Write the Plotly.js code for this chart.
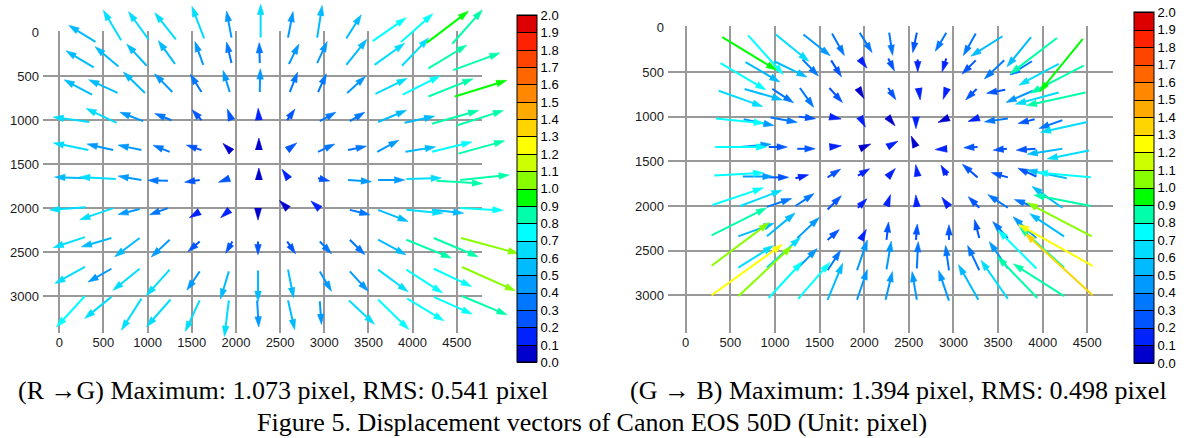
<!DOCTYPE html>
<html><head><meta charset="utf-8">
<script src="https://cdn.plot.ly/plotly-3.0.1.min.js"></script>
<style>html,body{margin:0;padding:0;background:#fff}#chart{width:1189px;height:438px}
.gridlayer path{shape-rendering:crispEdges}</style>
</head><body><div id="chart"></div>
<script>
// ---------------- data ----------------
// sample points (image coordinates, camera pixels), shared by both panels: rows x columns
const GX = [
 [410, 700, 1010, 1320, 1640, 1950, 2280, 2590, 2920, 3250, 3550, 3870, 4160, 4450],
 [390, 670,  990, 1310, 1630, 1950, 2270, 2600, 2920, 3250, 3570, 3880, 4180, 4460],
 [370, 660,  970, 1280, 1610, 1930, 2270, 2610, 2930, 3260, 3580, 3890, 4180, 4480],
 [340, 650,  950, 1270, 1610, 1950, 2260, 2580, 2950, 3290, 3610, 3910, 4220, 4500],
 [330, 610,  930, 1250, 1610, 1950, 2260, 2580, 2930, 3270, 3600, 3920, 4220, 4520],
 [320, 640,  930, 1230, 1590, 1930, 2260, 2600, 2930, 3270, 3610, 3930, 4270, 4540],
 [300, 610,  910, 1230, 1590, 1930, 2250, 2590, 2950, 3290, 3610, 3930, 4220, 4540],
 [290, 590,  910, 1250, 1590, 1960, 2250, 2580, 2950, 3290, 3610, 3930, 4240, 4550],
 [290, 590,  910, 1250, 1590, 1920, 2250, 2590, 2950, 3290, 3610, 3930, 4240, 4560],
 [290, 590,  930, 1260, 1590, 1920, 2240, 2590, 2950, 3280, 3610, 3940, 4240, 4560]
];
const GY = [
 [ 110,   90,   80,   80,   70,   60,   60,   60,   60,   70,  100,  110,  120,  130],
 [ 400,  390,  380,  360,  370,  350,  350,  360,  350,  370,  370,  380,  410,  430],
 [ 710,  690,  690,  680,  680,  680,  680,  680,  680,  690,  700,  710,  730,  730],
 [1020, 1030, 1010, 1000, 1000, 1000, 1000, 1000, 1010, 1010, 1020, 1030, 1040, 1060],
 [1340, 1340, 1340, 1360, 1340, 1360, 1340, 1340, 1360, 1340, 1360, 1360, 1360, 1380],
 [1660, 1670, 1680, 1690, 1680, 1660, 1680, 1670, 1660, 1680, 1680, 1670, 1690, 1680],
 [1990, 2000, 2010, 2000, 2040, 2020, 2000, 2010, 2010, 2020, 2020, 2020, 2020, 2000],
 [2330, 2340, 2340, 2360, 2380, 2380, 2380, 2380, 2380, 2360, 2360, 2360, 2340, 2340],
 [2670, 2690, 2690, 2700, 2720, 2720, 2710, 2700, 2720, 2720, 2700, 2700, 2690, 2670],
 [3000, 3010, 3030, 3040, 3050, 3050, 3050, 3050, 3060, 3050, 3040, 3030, 3010, 3000]
];
// R -> G displacement (pixel): x and y components
const RG_U = [
 [-0.48,-0.32,-0.36,-0.38,-0.22,-0.09, 0.00, 0.09, 0.09, 0.27, 0.60, 0.57, 0.75, 0.54],
 [-0.50,-0.42,-0.36,-0.30,-0.15,-0.09,-0.01, 0.18, 0.18, 0.37, 0.54, 0.48, 0.69, 0.84],
 [-0.50,-0.52,-0.39,-0.32,-0.20,-0.12, 0.01, 0.14, 0.15, 0.33, 0.57, 0.67, 0.80, 0.93],
 [-0.65,-0.55,-0.42,-0.30,-0.17,-0.07,-0.01, 0.14, 0.29, 0.27, 0.51, 0.54, 0.84, 0.84],
 [-0.63,-0.47,-0.42,-0.30,-0.27,-0.05, 0.00, 0.16, 0.30, 0.33, 0.39, 0.54, 0.72, 0.83],
 [-0.59,-0.65,-0.42,-0.36,-0.27,-0.19, 0.00,-0.07, 0.21, 0.42, 0.48, 0.63, 0.83, 0.88],
 [-0.65,-0.60,-0.39,-0.33,-0.17,-0.15, 0.00,-0.05,-0.11, 0.36, 0.54, 0.66, 0.57, 0.77],
 [-0.57,-0.54,-0.45,-0.33,-0.21,-0.12, 0.00, 0.15, 0.21, 0.27, 0.50, 0.81, 0.80, 1.03],
 [-0.54,-0.42,-0.48,-0.42,-0.23,-0.15, 0.00, 0.10, 0.21, 0.33, 0.54, 0.65, 0.68, 0.96],
 [-0.51,-0.48,-0.36,-0.43,-0.26,-0.08, 0.03, 0.12, 0.03, 0.46, 0.55, 0.66, 0.69, 0.81]
];
const RG_V = [
 [-0.30,-0.54,-0.50,-0.48,-0.58,-0.48,-0.60,-0.47,-0.58,-0.43,-0.42,-0.51,-0.57,-0.61],
 [-0.30,-0.36,-0.39,-0.42,-0.42,-0.38,-0.37,-0.36,-0.39,-0.46,-0.39,-0.50,-0.42,-0.31],
 [-0.27,-0.24,-0.38,-0.33,-0.32,-0.39,-0.42,-0.36,-0.33,-0.30,-0.28,-0.34,-0.32,-0.29],
 [-0.09,-0.26,-0.16,-0.12,-0.19,-0.19,-0.17,-0.20,-0.16,-0.16,-0.21,-0.12,-0.24,-0.27],
 [-0.13,-0.11,-0.09,-0.12,-0.09,-0.05,-0.05,-0.12,-0.14,-0.07,-0.21,-0.09,-0.18,-0.23],
 [-0.02,-0.04,-0.07,-0.01, 0.04, 0.07,-0.05,-0.10, 0.05, 0.03, 0.00,-0.02, 0.05,-0.09],
 [ 0.05, 0.21, 0.10, 0.12, 0.10, 0.13, 0.07,-0.05,-0.10, 0.09, 0.21, 0.06, 0.06, 0.04],
 [ 0.19, 0.16, 0.34, 0.31, 0.18, 0.21, 0.24, 0.22, 0.22, 0.27, 0.27, 0.33, 0.34, 0.28],
 [ 0.30, 0.24, 0.39, 0.47, 0.34, 0.50, 0.56, 0.51, 0.36, 0.36, 0.40, 0.42, 0.32, 0.43],
 [ 0.56, 0.39, 0.57, 0.49, 0.56, 0.65, 0.48, 0.53, 0.42, 0.43, 0.54, 0.40, 0.31, 0.34]
];
// G -> B displacement (pixel)
const GB_U = [
 [ 0.79, 0.51, 0.48, 0.39, 0.18, 0.18, 0.05,-0.06,-0.16,-0.18,-0.46,-0.35,-0.68,-0.63],
 [ 0.66, 0.50, 0.48, 0.23, 0.15, 0.09, 0.09, 0.00,-0.06,-0.20,-0.29,-0.32,-0.58,-0.78],
 [ 0.64, 0.55, 0.31, 0.20, 0.19, 0.04, 0.11, 0.02,-0.05,-0.16,-0.27,-0.39,-0.63,-0.86],
 [ 0.70, 0.44, 0.39, 0.24, 0.10, 0.07, 0.05, 0.00,-0.09,-0.14,-0.34,-0.24,-0.34,-0.68],
 [ 0.75, 0.45, 0.27, 0.26, 0.10, 0.07, 0.09,-0.03,-0.15,-0.20,-0.20,-0.28,-0.51,-0.61],
 [ 0.72, 0.44, 0.29, 0.19, 0.19, 0.17, 0.08,-0.02,-0.09,-0.22,-0.24,-0.27,-0.58,-0.78],
 [ 0.74, 0.61, 0.36, 0.27, 0.20, 0.13, 0.05,-0.01,-0.09,-0.16,-0.29,-0.32,-0.44,-0.83],
 [ 0.80, 0.52, 0.41, 0.32, 0.17, 0.07, 0.03, 0.02, 0.00,-0.07,-0.22,-0.34,-0.50,-0.94],
 [ 0.84, 0.51, 0.49, 0.29, 0.19, 0.15, 0.07, 0.02,-0.05,-0.17,-0.27,-0.56,-0.65,-1.08],
 [ 1.03, 0.78, 0.49, 0.46, 0.22, 0.15, 0.10,-0.07,-0.15,-0.29,-0.39,-0.58,-0.74,-0.98]
];
const GB_V = [
 [ 0.48, 0.57, 0.39, 0.31, 0.32, 0.29, 0.33, 0.29, 0.27, 0.32, 0.29, 0.43, 0.52, 0.77],
 [ 0.39, 0.29, 0.23, 0.24, 0.24, 0.12, 0.18, 0.18, 0.19, 0.20, 0.27, 0.20, 0.31, 0.40],
 [ 0.23, 0.16, 0.20, 0.28, 0.21, 0.07, 0.17, 0.15, 0.14, 0.16, 0.05, 0.17, 0.17, 0.19],
 [ 0.07, 0.09, 0.07, 0.03, 0.02, 0.13, 0.06, 0.10, 0.04, 0.05, 0.05, 0.06, 0.12, 0.15],
 [ 0.00,-0.04, 0.00, 0.00,-0.01,-0.03,-0.05,-0.07, 0.01, 0.01, 0.02, 0.02, 0.08, 0.12],
 [-0.04, 0.00, 0.00,-0.05,-0.12,-0.10,-0.09,-0.12,-0.15,-0.19,-0.07,-0.12,-0.12,-0.07],
 [-0.25,-0.23,-0.12,-0.18,-0.20,-0.13,-0.14,-0.12,-0.12,-0.16,-0.19,-0.12,-0.31,-0.16],
 [-0.40,-0.19,-0.34,-0.30,-0.15,-0.13,-0.26,-0.23,-0.22,-0.27,-0.24,-0.31,-0.33,-0.49],
 [-0.63,-0.32,-0.44,-0.29,-0.29,-0.44,-0.41,-0.39,-0.36,-0.36,-0.39,-0.56,-0.59,-0.60],
 [-0.74,-0.73,-0.53,-0.53,-0.53,-0.44,-0.41,-0.41,-0.44,-0.51,-0.56,-0.60,-0.47,-0.90]
];
const X_TICKS = [0, 500, 1000, 1500, 2000, 2500, 3000, 3500, 4000, 4500];
const Y_TICKS = [0, 500, 1000, 1500, 2000, 2500, 3000];
const CB_TICKS = [0,0.1,0.2,0.3,0.4,0.5,0.6,0.7,0.8,0.9,1.0,1.1,1.2,1.3,1.4,1.5,1.6,1.7,1.8,1.9,2.0];
const CB_LABELS = ['0.0','0.1','0.2','0.3','0.4','0.5','0.6','0.7','0.8','0.9','1.0','1.1','1.2','1.3','1.4','1.5','1.6','1.7','1.8','1.9','2.0'];
const COLORS = ['#0000cc','#0022ff','#0055ff','#0077ff','#0099ff','#00bbff','#00ddff','#00ffff','#00ffaa','#00ff00',
                '#88ff00','#ccff00','#ffff00','#ffd400','#ffaa00','#ff8800','#ff6600','#ff4400','#ff2200','#dd0000'];
const CAPTION_L = '(R \u2192G) Maximum: 1.073 pixel, RMS: 0.541 pixel';
const CAPTION_R = '(G \u2192 B) Maximum: 1.394 pixel, RMS: 0.498 pixel';
const FIG_TITLE = 'Figure 5. Displacement vectors of Canon EOS 50D (Unit: pixel)';

// ---------------- layout geometry (page px) ----------------
const W = 1189, H = 438;
const SCALE_L = 630, SCALE_R = 770;           // arrow length: image units per pixel of displacement
const MAP_L = {ox: 59.3, kx: 0.088311, oy: 32.3, ky: 0.0879};
const MAP_R = {ox: 685.7, kx: 0.08924, oy: 27.3, ky: 0.08933};
const HEAD_LEN = 10.5, HEAD_HALF = 3.3, TINY = 12, TINY_HALF = 3.5;

function axX(m, p0, p1) { return {domain: [p0 / W, p1 / W], range: [(p0 - m.ox) / m.kx, (p1 - m.ox) / m.kx]}; }
function axY(m, top, bot) { return {domain: [1 - bot / H, 1 - top / H], range: [(bot - m.oy) / m.ky, (top - m.oy) / m.ky]}; }

const stepScale = [];
COLORS.forEach((c, k) => { stepScale.push([k / 20, c]); stepScale.push([(k + 1) / 20, c]); });

function arrowTraces(U, V, scale, m, xa, ya) {
  const groups = COLORS.map(() => ({sx: [], sy: [], hx: [], hy: []}));
  const toX = p => (p - m.ox) / m.kx, toY = p => (p - m.oy) / m.ky;
  for (let r = 0; r < GX.length; r++) for (let c = 0; c < GX[r].length; c++) {
    const u = U[r][c], v = V[r][c];
    const mag = Math.hypot(u, v);
    const k = Math.min(19, Math.floor(mag * 10 + 1e-6));
    const tx = m.ox + m.kx * GX[r][c], ty = m.oy + m.ky * GY[r][c];
    const dx = m.kx * u * scale, dy = m.ky * v * scale;
    const L = Math.hypot(dx, dy) || 1e-6;
    const ex = dx / L, ey = dy / L;
    let Ld, hl, hw;
    if (L < TINY) { Ld = TINY; hl = TINY; hw = TINY_HALF; } else { Ld = L; hl = HEAD_LEN; hw = HEAD_HALF; }
    const px = tx + ex * Ld, py = ty + ey * Ld;
    const bx = px - ex * hl, by = py - ey * hl;
    const g = groups[k];
    if (Ld > hl) { g.sx.push(toX(tx), toX(bx + ex * 2), null); g.sy.push(toY(ty), toY(by + ey * 2), null); }
    g.hx.push(toX(bx - ey * hw), toX(px), toX(bx + ey * hw), null);
    g.hy.push(toY(by + ex * hw), toY(py), toY(by - ex * hw), null);
  }
  const out = [];
  groups.forEach((g, k) => {
    if (g.sx.length) out.push({type: 'scatter', mode: 'lines', x: g.sx, y: g.sy, xaxis: xa, yaxis: ya,
      line: {color: COLORS[k], width: 2}, hoverinfo: 'skip', showlegend: false});
    if (g.hx.length) out.push({type: 'scatter', mode: 'lines', x: g.hx, y: g.hy, xaxis: xa, yaxis: ya,
      fill: 'toself', fillcolor: COLORS[k], line: {color: COLORS[k], width: 0.6}, hoverinfo: 'skip', showlegend: false});
  });
  return out;
}

function colorbarTrace(xa, ya, left, top, len) {
  return {type: 'contour', z: [[0, 2], [2, 0]], x: [-90000, -89999], y: [-90000, -89999], xaxis: xa, yaxis: ya,
    autocontour: false, contours: {start: 0, end: 2, size: 0.1, coloring: 'fill', showlines: true},
    zmin: 0, zmax: 2, colorscale: stepScale, line: {color: '#000', width: 1}, hoverinfo: 'skip',
    colorbar: {x: left / W, xanchor: 'left', xpad: 0, y: 1 - top / H, yanchor: 'top', ypad: 0,
      len: len, lenmode: 'pixels', thickness: 20, thicknessmode: 'pixels',
      outlinewidth: 1, outlinecolor: '#000', tickmode: 'array', tickvals: CB_TICKS, ticktext: CB_LABELS,
      ticks: '', tickfont: {family: 'Arial, Liberation Sans, sans-serif', size: 13, color: '#000'}}};
}

const traces = [].concat(
  arrowTraces(RG_U, RG_V, SCALE_L, MAP_L, 'x3', 'y3'),
  arrowTraces(GB_U, GB_V, SCALE_R, MAP_R, 'x4', 'y4'),
  [colorbarTrace('x3', 'y3', 517.3, 15.3, 347.4), colorbarTrace('x4', 'y4', 1134, 12, 351)]
);

const tickFont = {family: 'Arial, Liberation Sans, sans-serif', size: 13, color: '#1a1a1a'};
const gridStyle = {showgrid: true, gridcolor: '#999999', gridwidth: 1.98, zeroline: false, showline: false,
  ticks: '', tickmode: 'array', tickfont: tickFont, fixedrange: true};
const hidden = {visible: false, showgrid: false, zeroline: false, fixedrange: true};

const layout = {
  width: W, height: H, margin: {l: 0, r: 0, t: 0, b: 0, pad: 0},
  paper_bgcolor: '#ffffff', plot_bgcolor: 'rgba(0,0,0,0)', showlegend: false, hovermode: false,
  xaxis:  Object.assign({}, gridStyle, axX(MAP_L, 43, 482), {tickvals: X_TICKS, anchor: 'y'}),
  yaxis:  Object.assign({}, gridStyle, axY(MAP_L, 31.3, 333.3), {tickvals: Y_TICKS, anchor: 'x', ticklabelstandoff: 3}),
  xaxis2: Object.assign({}, gridStyle, axX(MAP_R, 668, 1113.3), {tickvals: X_TICKS, anchor: 'y2'}),
  yaxis2: Object.assign({}, gridStyle, axY(MAP_R, 26.3, 333.3), {tickvals: Y_TICKS, anchor: 'x2', ticklabelstandoff: 3}),
  xaxis3: Object.assign({}, hidden, axX(MAP_L, 0, 600), {anchor: 'y3'}),
  yaxis3: Object.assign({}, hidden, axY(MAP_L, 0, 372), {anchor: 'x3'}),
  xaxis4: Object.assign({}, hidden, axX(MAP_R, 620, 1132), {anchor: 'y4'}),
  yaxis4: Object.assign({}, hidden, axY(MAP_R, 0, 372), {anchor: 'x4'}),
  annotations: [
    {text: CAPTION_L, xref: 'paper', yref: 'paper', x: 282.5 / W, y: 1 - 390 / H, xanchor: 'center', yanchor: 'middle', showarrow: false,
     font: {family: 'Liberation Serif, Times New Roman, serif', size: 26, color: '#000'}},
    {text: CAPTION_R, xref: 'paper', yref: 'paper', x: 898.5 / W, y: 1 - 390 / H, xanchor: 'center', yanchor: 'middle', showarrow: false,
     font: {family: 'Liberation Serif, Times New Roman, serif', size: 26, color: '#000'}},
    {text: FIG_TITLE, xref: 'paper', yref: 'paper', x: 592 / W, y: 1 - 422 / H, xanchor: 'center', yanchor: 'middle', showarrow: false,
     font: {family: 'Liberation Serif, Times New Roman, serif', size: 26, color: '#000'}}
  ]
};
// empty traces so the visible (gridded) axes exist
traces.unshift({type: 'scatter', x: [], y: [], xaxis: 'x', yaxis: 'y', hoverinfo: 'skip'},
               {type: 'scatter', x: [], y: [], xaxis: 'x2', yaxis: 'y2', hoverinfo: 'skip'});

Plotly.newPlot('chart', traces, layout, {staticPlot: true, displayModeBar: false});
</script>
</body></html>
